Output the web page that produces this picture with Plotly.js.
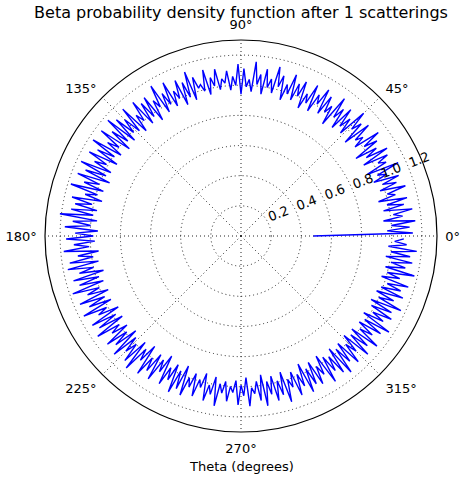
<!DOCTYPE html>
<html>
<head>
<meta charset="utf-8">
<script src="https://cdn.plot.ly/plotly-3.0.1.min.js"></script>
<style>html,body{margin:0;padding:0;background:#fff;}#chart{width:461px;height:483px;}</style>
</head>
<body>
<div id="chart"></div>
<script>
// Bin step of the histogram (degrees) and density values
var binStepDeg = 1;
var density = [
0.48,1.14,0.97,1.12,1.00,1.16,0.95,1.08,1.02,1.15,
0.96,1.10,0.99,1.13,0.94,1.06,1.01,1.14,0.97,1.09,
1.00,1.12,0.95,1.05,0.99,1.15,0.93,1.08,1.03,1.11,
0.94,1.13,0.98,1.07,0.92,1.10,1.01,1.14,0.96,1.04,
0.99,1.12,0.93,1.09,1.02,1.15,0.95,1.06,0.98,1.11,
0.94,1.08,1.00,1.14,0.92,1.05,0.99,1.10,0.96,1.13,
1.01,1.07,0.94,1.12,0.98,1.04,0.93,1.11,1.00,1.08,
0.96,1.13,0.99,1.05,0.94,1.10,1.02,1.15,0.97,1.06,
1.00,1.12,0.95,1.08,1.01,1.16,0.96,1.04,0.99,1.11,
0.94,1.14,1.00,1.06,0.97,1.10,1.02,1.05,0.98,1.12,
1.01,1.07,0.96,1.13,0.99,1.04,1.02,1.10,0.95,1.15,
0.98,1.09,0.94,1.12,1.00,1.06,0.96,1.14,0.99,1.08,
0.95,1.16,1.01,1.07,0.93,1.12,0.98,1.10,0.95,1.14,
1.00,1.06,0.94,1.15,0.97,1.09,0.99,1.13,0.95,1.17,
0.98,1.10,0.94,1.16,1.00,1.08,0.96,1.17,0.99,1.11,
0.95,1.15,1.01,1.09,0.96,1.17,0.98,1.12,0.94,1.16,
1.00,1.10,0.96,1.18,0.99,1.07,0.95,1.15,1.01,1.12,
0.97,1.14,0.99,1.21,0.96,1.12,1.00,1.17,0.95,1.10,
0.98,1.16,0.97,1.11,1.01,1.18,0.95,1.09,0.99,1.15,
0.96,1.17,1.00,1.10,0.94,1.15,0.98,1.12,0.96,1.18,
1.00,1.09,0.95,1.16,0.99,1.11,0.96,1.17,1.01,1.08,
0.94,1.15,0.98,1.12,0.95,1.16,1.00,1.07,0.96,1.14,
0.99,1.10,0.94,1.15,0.97,1.08,1.00,1.13,0.95,1.16,
0.98,1.06,0.93,1.14,1.00,1.09,0.95,1.13,0.97,1.05,
0.92,1.12,0.99,1.07,0.95,1.14,0.98,1.10,0.93,1.13,
1.00,1.06,0.96,1.11,0.99,1.04,0.94,1.12,1.01,1.07,
0.95,1.14,0.99,1.05,0.97,1.10,1.00,1.04,0.96,1.12,
0.99,1.06,0.94,1.13,1.01,1.05,0.97,1.10,0.93,1.14,
0.98,1.07,0.95,1.12,0.99,1.09,0.94,1.15,1.00,1.06,
0.96,1.13,0.99,1.08,0.93,1.14,0.98,1.10,0.95,1.12,
1.00,1.07,0.94,1.15,0.97,1.09,0.99,1.13,0.95,1.16,
0.98,1.10,0.96,1.14,1.00,1.08,0.95,1.15,0.98,1.11,
0.96,1.16,1.00,1.09,0.97,1.13,0.99,1.17,0.96,1.10,
1.01,1.14,0.98,1.12,0.96,1.17,1.00,1.10,0.97,1.15,
0.99,1.12,1.02,1.16,0.97,1.09,1.00,1.18,0.98,1.11,
1.01,1.15,0.97,1.13,1.00,1.17,0.98,1.10,1.02,1.08
];
var thetaTicks = [0, 45, 90, 135, 180, 225, 270, 315];
var thetaTickLabels = ['0°', '45°', '90°', '135°', '180°', '225°', '270°', '315°'];
var radialTicks = [0.2, 0.4, 0.6, 0.8, 1.0, 1.2];
var radialTickLabels = ['0.2', '0.4', '0.6', '0.8', '1.0', '1.2'];
var titleText = 'Beta probability density function after 1 scatterings';
var xLabel = 'Theta (degrees)';

var radialRange = [0, 1.3];
var radialLabelShift = 0.085; // labels sit a little outside their ring, as in the reference

var theta = density.map(function (_, i) { return i * binStepDeg; });

var trace = {
  type: 'scatterpolar',
  mode: 'lines',
  r: density,
  theta: theta,
  line: {color: '#0000ff', width: 1.4},
  hoverinfo: 'skip',
  subplot: 'polar'
};
var labelTrace = {
  type: 'scatterpolar', mode: 'lines', r: [], theta: [],
  subplot: 'polar2', hoverinfo: 'skip'
};

var font = {family: 'DejaVu Sans, sans-serif', size: 13, color: '#000'};
var dotted = '1px,3px';

var layout = {
  width: 461,
  height: 483,
  margin: {l: 45, r: 24, t: 40, b: 51, pad: 0},
  paper_bgcolor: '#fff',
  font: font,
  showlegend: false,
  title: {
    text: titleText,
    font: {family: 'DejaVu Sans, sans-serif', size: 16, color: '#000'},
    x: 0.5, xref: 'paper', xanchor: 'center',
    y: 1 - 12 / 483, yref: 'container', yanchor: 'middle'
  },
  polar: {
    domain: {x: [0, 1], y: [0, 1]},
    bgcolor: '#fff',
    angularaxis: {
      rotation: 0,
      direction: 'counterclockwise',
      tickmode: 'array',
      tickvals: thetaTicks,
      ticktext: thetaTickLabels,
      ticks: 'outside',
      ticklen: 5,
      tickcolor: 'rgba(0,0,0,0)',
      showline: true,
      linecolor: '#000',
      linewidth: 1.2,
      showgrid: true,
      gridcolor: '#222',
      gridwidth: 1,
      griddash: dotted,
      tickfont: font
    },
    radialaxis: {
      range: radialRange,
      angle: 22.5,
      tickmode: 'array',
      tickvals: radialTicks,
      showticklabels: false,
      showline: false,
      ticks: '',
      showgrid: true,
      gridcolor: '#222',
      gridwidth: 1,
      griddash: dotted
    }
  },
  polar2: {
    domain: {x: [0, 1], y: [0, 1]},
    bgcolor: 'rgba(0,0,0,0)',
    angularaxis: {visible: false, rotation: 0, direction: 'counterclockwise'},
    radialaxis: {
      range: radialRange,
      angle: 21,
      tickangle: 0,
      tickmode: 'array',
      tickvals: radialTicks.map(function (v) { return v + radialLabelShift; }),
      ticktext: radialTickLabels,
      showline: false,
      showgrid: false,
      ticks: '',
      side: 'counterclockwise',
      tickfont: font
    }
  },
  annotations: [{
    text: xLabel,
    xref: 'paper', yref: 'paper',
    x: 0.5, y: -(467 - 432) / 392,
    xanchor: 'center', yanchor: 'middle',
    showarrow: false,
    font: font
  }]
};

Plotly.newPlot('chart', [trace, labelTrace], layout, {displayModeBar: false, staticPlot: true});
</script>
</body>
</html>
